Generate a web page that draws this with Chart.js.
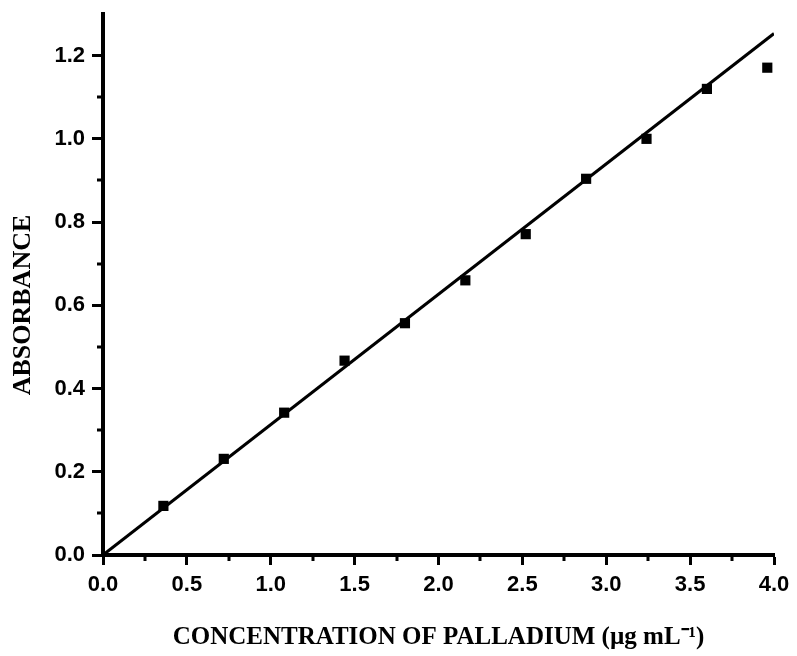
<!DOCTYPE html>
<html>
<head>
<meta charset="utf-8">
<script src="https://cdn.jsdelivr.net/npm/chart.js@4.4.1/dist/chart.umd.min.js"></script>
<style>
    html, body { margin: 0; padding: 0; background: #fff; }
    #wrap { width: 797px; height: 656px; }
</style>
</head>
<body>
<div id="wrap"><canvas id="myChart"></canvas></div>
<script>
// measured points
const concentration = [0.36, 0.72, 1.08, 1.44, 1.80, 2.16, 2.52, 2.88, 3.24, 3.60, 3.96];
const absorbance = [0.118, 0.231, 0.342, 0.467, 0.557, 0.660, 0.771, 0.904, 1.000, 1.120, 1.171];

// linear fit at its two ends
const fitX = [0.0, 4.0];
const fitY = [0.0, 1.253];

const xMajorTicks = [0.0, 0.5, 1.0, 1.5, 2.0, 2.5, 3.0, 3.5, 4.0];
const xMinorTicks = [0.25, 0.75, 1.25, 1.75, 2.25, 2.75, 3.25, 3.75];
const yMajorTicks = [0.0, 0.2, 0.4, 0.6, 0.8, 1.0, 1.2];
const yMinorTicks = [0.1, 0.3, 0.5, 0.7, 0.9, 1.1];

const xTitle = "CONCENTRATION OF PALLADIUM (\u00b5g mL\u207b\u00b9)";
const yTitle = "ABSORBANCE";

document.addEventListener("DOMContentLoaded", function () {
    const ctx = document.getElementById('myChart');

    // short ticks between the labelled ones
    const minorTicks = {
        id: 'minorTicks',
        afterDraw(chart) {
            const c = chart.ctx;
            const xs = chart.scales.x;
            const ys = chart.scales.y;
            c.save();
            c.strokeStyle = '#000';
            c.lineWidth = 3;
            c.beginPath();
            xMinorTicks.forEach(v => {
                let px = Math.round(xs.getPixelForValue(v));
                c.moveTo(px, xs.top);
                c.lineTo(px, xs.top + 6);
            });
            yMinorTicks.forEach(v => {
                let py = Math.round(ys.getPixelForValue(v));
                c.moveTo(ys.right, py);
                c.lineTo(ys.right - 6, py);
            });
            c.stroke();
            c.restore();
        }
    };

    // y title sits a little below the middle of the axis
    const yAxisTitle = {
        id: 'yAxisTitle',
        afterDraw(chart) {
            const c = chart.ctx;
            c.save();
            c.translate(23, 305);
            c.rotate(-Math.PI / 2);
            c.font = "bold 26px 'Liberation Serif', 'Times New Roman', serif";
            c.fillStyle = '#000';
            c.textAlign = 'center';
            c.textBaseline = 'middle';
            c.fillText(yTitle, 0, 0);
            c.restore();
        }
    };

    const tickFont = { family: "'Liberation Sans', Arial, sans-serif", weight: 'bold', size: 22 };

    new Chart(ctx, {
        type: 'scatter',
        data: {
            datasets: [{
                label: 'fit',
                data: fitX.map((x, i) => ({ x: x, y: fitY[i] })),
                showLine: true,
                borderColor: '#000',
                borderWidth: 3,
                pointRadius: 0,
                order: 2
            }, {
                label: 'absorbance',
                data: concentration.map((x, i) => ({ x: x, y: absorbance[i] })),
                pointStyle: 'rect',
                pointRadius: 7.2,
                backgroundColor: '#000',
                borderColor: '#000',
                borderWidth: 0,
                order: 1
            }]
        },
        options: {
            responsive: true,
            maintainAspectRatio: false,
            animation: false,
            layout: { padding: { top: 14, right: 23, left: 0, bottom: 0 } },
            plugins: {
                legend: { display: false },
                tooltip: { enabled: false }
            },
            scales: {
                x: {
                    type: 'linear',
                    min: 0,
                    max: 4,
                    afterBuildTicks: scale => { scale.ticks = xMajorTicks.map(v => ({ value: v })); },
                    afterFit: scale => {
                        scale.height = 101;
                        scale.paddingLeft = 0;
                        scale.paddingRight = 0;
                    },
                    grid: { drawOnChartArea: false, drawTicks: true, tickLength: 10, tickWidth: 3, tickColor: '#000' },
                    border: { display: true, color: '#000', width: 4 },
                    ticks: {
                        color: '#000',
                        font: tickFont,
                        padding: 7,
                        maxRotation: 0,
                        callback: v => v.toFixed(1)
                    },
                    title: {
                        display: true,
                        text: xTitle,
                        color: '#000',
                        font: { family: "'Liberation Serif', 'Times New Roman', serif", weight: 'bold', size: 25 },
                        padding: { top: 4, bottom: 3 }
                    }
                },
                y: {
                    type: 'linear',
                    min: 0,
                    max: 1.3,
                    afterBuildTicks: scale => { scale.ticks = yMajorTicks.map(v => ({ value: v })); },
                    afterFit: scale => {
                        scale.width = 103;
                        scale.paddingTop = 0;
                        scale.paddingBottom = 0;
                    },
                    grid: { drawOnChartArea: false, drawTicks: true, tickLength: 11, tickWidth: 3, tickColor: '#000' },
                    border: { display: true, color: '#000', width: 4 },
                    ticks: {
                        color: '#000',
                        font: tickFont,
                        padding: 7,
                        callback: v => v.toFixed(1)
                    }
                }
            }
        },
        plugins: [minorTicks, yAxisTitle]
    });
});
</script>
</body>
</html>
